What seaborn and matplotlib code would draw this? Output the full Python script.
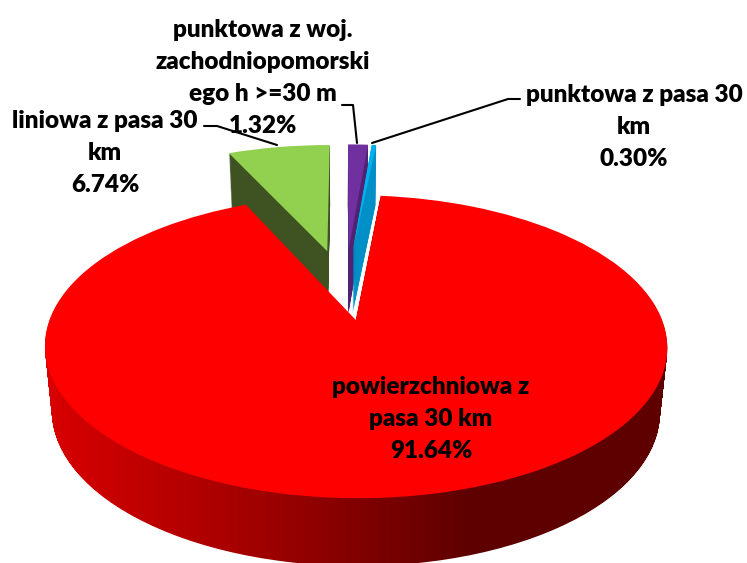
"""Exploded 3D-style pie: shares of sources, drawn as stacked ax.pie layers."""

import numpy as np
import matplotlib
matplotlib.use("Agg")
import matplotlib.pyplot as plt
import matplotlib.transforms as mtransforms
from matplotlib.path import Path
import seaborn as sns

# ── Data ─────────────────────────────────────────────────────────────────────
shares = [1.32, 0.30, 91.64, 6.74]
names = [
    "punktowa z woj.\nzachodniopomorski\nego h >=30 m",
    "punktowa z pasa 30\nkm",
    "powierzchniowa z\npasa 30 km",
    "liniowa z pasa 30\nkm",
]
top_colors = ["#7030a0", "#00b0f0", "#ff0000", "#92d050"]
wall_colors = ["#4f2272", "#0090c8", "#ff0000", "#3f5322"]
draw_order = [3, 0, 1, 2]

# ── Layout ───────────────────────────────────────────────────────────────────
W, H = 747, 563
EXPLODE = [0.30, 0.30, 0.22, 0.30]
CX, CY, SX, SY, PERSP = 345, 289.3, 295, 136.1, 0.17
DEPTH = 64
LAYERS = np.arange(DEPTH, 0, -1) / DEPTH


class DiscProjection(mtransforms.Transform):
    """Tilted-disc projection, t is how far down the side wall we are (0..1)."""
    input_dims = 2
    output_dims = 2

    def __init__(self, t=0.0):
        super().__init__()
        self.t = t

    def transform_non_affine(self, values):
        x, y = np.asarray(values).T
        w = 1 + PERSP * y
        px = CX + SX * x / w * (1 - 0.023 * self.t)
        py = CY - SY * y / w + self.t * DEPTH * (1 - 0.05 * y)
        return np.column_stack([px, py])


sns.set_theme(style="white")
plt.rcParams["font.family"] = ["Lato", "DejaVu Sans"]

fig = plt.figure(figsize=(W / 100, H / 100), dpi=100)
ax = fig.add_axes([0, 0, 1, 1])


def draw_layer(t, colors, base_z):
    """One full pie at wall position t, each slice on its own zorder."""
    wedges, _ = ax.pie(shares, explode=EXPLODE, startangle=90, counterclock=False,
                       colors=colors, wedgeprops={"linewidth": 0})
    for i, w in enumerate(wedges):
        w.set_transform(DiscProjection(t) + ax.transData)
        w.set_zorder(draw_order.index(i) * 2 + base_z)
    return wedges


# ── Side walls, back layer first ─────────────────────────────────────────────
red = 2
red_paths = []
for t in LAYERS:
    layer = draw_layer(t, wall_colors, 1)
    red_paths.append(DiscProjection(t).transform_path(layer[red].get_path()))
    layer[red].set_visible(False)

# red wall has a left-to-right shading, painted as an image clipped to the wall
wall_cmap = sns.blend_palette(["#d80000", "#a00000", "#5e0000"], as_cmap=True)
xs = np.arange(W)
shade = np.clip((xs - 50) / 420, 0, 1)[None, :]
im = ax.imshow(shade, cmap=wall_cmap, extent=(0, W, H, 0), aspect="auto", zorder=draw_order.index(red) * 2 + 1)
im.set_clip_path(Path.make_compound_path(*red_paths), transform=ax.transData)

# ── Top faces ────────────────────────────────────────────────────────────────
draw_layer(0.0, top_colors, 2)

ax.set_aspect("auto")
ax.set_xlim(0, W)
ax.set_ylim(H, 0)
ax.axis("off")

# ── Labels and leader lines ──────────────────────────────────────────────────
label_pos = [(263, 78), (634, 127), (431, 419), (105, 153)]
for name, share, (lx, ly) in zip(names, shares, label_pos):
    ax.text(lx, ly, f"{name}\n{share:.2f}%", ha="center", va="center", fontsize=17.5,
            fontweight="heavy", color="black", linespacing=1.56, zorder=20)

leaders = [
    ([342, 353, 357], [105, 105, 143]),
    ([520, 508, 372], [99, 99, 143]),
    ([204, 217, 277], [126, 126, 145]),
]
for lx, ly in leaders:
    ax.plot(lx, ly, color="black", lw=1.5, zorder=19)

fig.savefig("out.png", dpi=100)
